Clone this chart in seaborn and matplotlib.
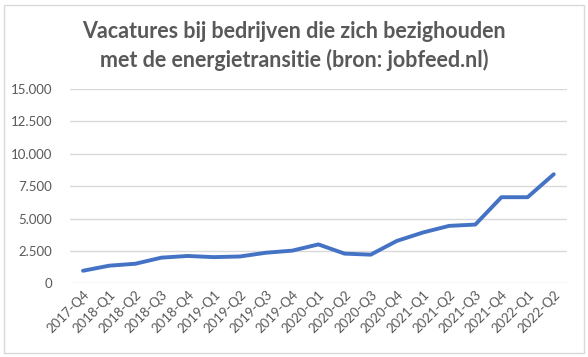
import seaborn as sns
import matplotlib.pyplot as plt
import pandas as pd
from matplotlib.ticker import FuncFormatter, MultipleLocator
from matplotlib.patches import Rectangle

quarters = ['2017-Q4', '2018-Q1', '2018-Q2', '2018-Q3', '2018-Q4',
            '2019-Q1', '2019-Q2', '2019-Q3', '2019-Q4',
            '2020-Q1', '2020-Q2', '2020-Q3', '2020-Q4',
            '2021-Q1', '2021-Q2', '2021-Q3', '2021-Q4',
            '2022-Q1', '2022-Q2']
vacatures = [980, 1370, 1520, 1990, 2120,
             2030, 2080, 2370, 2530,
             3010, 2300, 2220, 3280,
             3930, 4440, 4540, 6650,
             6650, 8420]

title = "Vacatures bij bedrijven die zich bezighouden\nmet de energietransitie (bron: jobfeed.nl)"

df = pd.DataFrame({'Kwartaal': quarters, 'Vacatures': vacatures})

# aesthetics
sns.set_style('white')
plt.rcParams['font.family'] = ['Lato', 'DejaVu Sans']

fig = plt.figure(figsize=(5.88, 3.57), dpi=100)
ax = fig.add_axes([0.119, 0.206, 0.845, 0.545])

sns.lineplot(data=df, x='Kwartaal', y='Vacatures', sort=False,
             color='#4472C4', linewidth=2.8, ax=ax)

ax.set_xlim(-0.5, len(quarters) - 0.5)
ax.set_ylim(0, 15000)
ax.yaxis.set_major_locator(MultipleLocator(2500))
ax.yaxis.set_major_formatter(FuncFormatter(lambda v, p: f"{v:,.0f}".replace(',', '.')))
ax.grid(axis='y', color='#D9D9D9', linewidth=1)
ax.set_axisbelow(True)
for s in ax.spines.values():
    s.set_visible(False)

ax.set_xlabel('')
ax.set_ylabel('')
ax.tick_params(axis='both', length=0, colors='#595959', labelsize=9.5)
ax.tick_params(axis='y', pad=13)
plt.setp(ax.get_xticklabels(), rotation=45, ha='right', rotation_mode='anchor')

fig.suptitle(title, x=0.5, y=0.94, fontsize=15.5, fontweight='bold',
             color='#595959', linespacing=1.35)

# chart border
fig.patches.append(Rectangle((0.006, 0.012), 0.988, 0.975, transform=fig.transFigure,
                             fill=False, edgecolor='#D9D9D9', linewidth=1))

plt.savefig('out.png', dpi=100)
plt.close()
